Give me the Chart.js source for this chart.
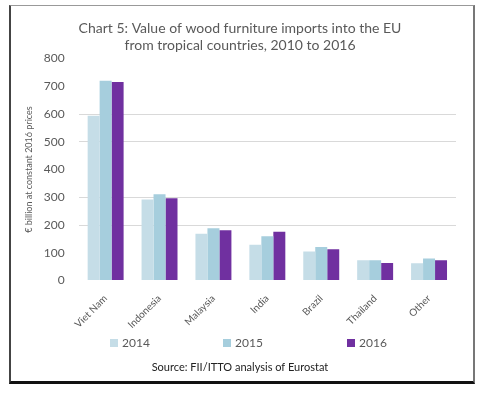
<!DOCTYPE html>
<html>
<head>
<meta charset="utf-8">
<script src="https://cdn.jsdelivr.net/npm/chart.js@4/dist/chart.umd.min.js"></script>
<style>
  body { margin: 0; background: #fff; font-family: Lato, sans-serif; }
  #frame {
    position: absolute; left: 9px; top: 5px; width: 462px; height: 375px;
    border-left: 2px solid #444; border-top: 1px solid #999;
    border-right: 2px solid #777; border-bottom: 3px solid #111;
  }
  #wrap { position: absolute; left: 0; top: 0; width: 482px; height: 396px; }
  #legend { position: absolute; top: 335px; left: 0; width: 482px; height: 16px; }
  #legend span { position: absolute; font-size: 12px; color: #595959; white-space: nowrap; }
  #legend i { display: inline-block; width: 8px; height: 8px; margin-right: 4px; }
</style>
</head>
<body>
<div id="frame"></div>
<div id="wrap"><canvas id="myChart"></canvas></div>
<div id="legend"></div>
<script>
const countries = ['Viet Nam', 'Indonesia', 'Malaysia', 'India', 'Brazil', 'Thailand', 'Other']
const values2014 = [594, 292, 169, 129, 105, 73, 62]
const values2015 = [720, 311, 188, 160, 121, 73, 79]
const values2016 = [716, 297, 181, 176, 113, 63, 73]
const yTicks = [0, 100, 200, 300, 400, 500, 600, 700, 800]
// only these gridlines show in the original
const shownGrid = [200, 300, 500, 600]
const legendX = [110, 223, 347]

const grey = '#595959'
Chart.defaults.font.family = 'Lato'
Chart.defaults.color = grey

const chart = new Chart('myChart', {
  type: 'bar',
  data: {
    labels: countries,
    datasets: [{
      label: '2014',
      data: values2014,
      backgroundColor: '#c5dde7'
    }, {
      label: '2015',
      data: values2015,
      backgroundColor: '#a6cedd'
    }, {
      label: '2016',
      data: values2016,
      backgroundColor: '#7030a0'
    }]
  },
  options: {
    responsive: true,
    maintainAspectRatio: false,
    animation: false,
    layout: { padding: { left: 24, right: 26, top: 17, bottom: 22 } },
    datasets: { bar: { categoryPercentage: 0.667, barPercentage: 1.0 } },
    scales: {
      x: {
        grid: { display: false },
        border: { display: false },
        ticks: { font: { size: 10 }, maxRotation: 45, minRotation: 45, padding: 4 }
      },
      y: {
        min: 0,
        max: 800,
        afterBuildTicks: axis => { axis.ticks = yTicks.map(v => ({ value: v })) },
        border: { display: false },
        grid: {
          drawTicks: false,
          color: ctx => shownGrid.includes(ctx.tick.value) ? '#d9d9d9' : 'rgba(0,0,0,0)'
        },
        ticks: { font: { size: 12 }, padding: 14, autoSkip: false },
        title: {
          display: true,
          text: '€ billion at constant 2016 prices',
          font: { size: 9 },
          padding: { top: 0, bottom: -5 }
        }
      }
    },
    plugins: {
      title: {
        display: true,
        text: ['Chart 5: Value of wood furniture imports into the EU', 'from tropical countries, 2010 to 2016'],
        font: { size: 14, weight: 'normal' },
        padding: { top: 3, bottom: 5 }
      },
      subtitle: {
        display: true,
        position: 'bottom',
        text: 'Source: FII/ITTO analysis of Eurostat',
        color: '#222',
        font: { size: 11 },
        padding: { top: 26, bottom: 0 }
      },
      legend: { display: false },
      tooltip: { enabled: false }
    }
  }
})

// legend spread across the bottom like the original
const legendDiv = document.getElementById('legend')
chart.data.datasets.forEach((ds, i) => {
  const item = document.createElement('span')
  item.style.left = legendX[i] + 'px'
  item.innerHTML = '<i style="background:' + ds.backgroundColor + '"></i>' + ds.label
  legendDiv.appendChild(item)
})
</script>
</body>
</html>
